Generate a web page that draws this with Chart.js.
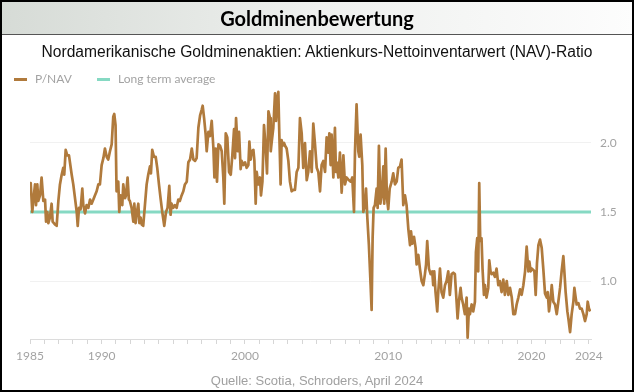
<!DOCTYPE html>
<html><head><meta charset="utf-8">
<script src="https://cdn.jsdelivr.net/npm/chart.js@4.4.1/dist/chart.umd.min.js"></script>
<style>
html,body{margin:0;padding:0;background:#fff;}
#wrap{position:relative;width:634px;height:392px;overflow:hidden;}
#head{position:absolute;left:0;top:0;width:634px;height:35px;background:linear-gradient(to right,#d6dbd6 0%,#eef0ee 50%,#fdfdfd 100%);border-bottom:1px solid #555;box-sizing:border-box;}
#title{position:absolute;left:0;top:6px;width:634px;text-align:center;font:bold 20px Lato,"Open Sans",sans-serif;color:#000;z-index:3;}
#sub{position:absolute;left:0;top:43px;width:634px;text-align:center;font:15.6px "Liberation Sans",Arial,sans-serif;color:#111;z-index:3;}
#src{position:absolute;left:0;top:373px;width:634px;text-align:center;font:13px "Liberation Sans",Arial,sans-serif;color:#a0a0a0;z-index:3;}
#legend{position:absolute;left:14px;top:71px;font:12px Lato,sans-serif;color:#a3a3a3;z-index:3;}
#legend span.item{position:absolute;white-space:nowrap;}
#legend i{position:absolute;top:7px;width:13px;height:3px;}
canvas{position:absolute;left:0;top:0;z-index:1;}
#frame{position:absolute;left:0;top:0;width:634px;height:392px;border:2px solid #000;box-sizing:border-box;z-index:4;pointer-events:none;}
</style></head>
<body>
<div id="wrap">
<div id="head"></div>
<div id="title">Goldminenbewertung</div>
<div id="sub">Nordamerikanische Goldminenaktien: Aktienkurs-Nettoinventarwert (NAV)-Ratio</div>
<div id="legend">
 <span class="item" style="left:0"><i style="left:0;background:#b07a3c"></i><span style="margin-left:21px">P/NAV</span></span>
 <span class="item" style="left:83px"><i style="left:0;background:#86d9c3"></i><span style="margin-left:21px">Long term average</span></span>
</div>
<canvas id="c" width="634" height="392"></canvas>
<div id="src">Quelle: Scotia, Schroders, April 2024</div>
<div id="frame"></div>
</div>
<script>
const seriesNames = ["P/NAV", "Long term average"];
const longTermAverage = 1.5;
const xLabelYears = [1985, 1990, 2000, 2010, 2020, 2024];
const yTickValues = [1.0, 1.5, 2.0];
const dates = [
1985.00,1985.05,1985.16,1985.23,1985.35,1985.42,1985.51,1985.58,1985.70,1985.81,1985.93,
1986.05,1986.12,1986.21,1986.28,1986.39,1986.51,1986.58,1986.74,1986.86,1986.98,
1987.09,1987.21,1987.32,1987.39,1987.49,1987.60,1987.72,1987.91,
1988.02,1988.14,1988.26,1988.33,1988.42,1988.53,1988.65,1988.72,1988.84,1988.95,
1989.07,1989.19,1989.30,1989.42,1989.53,1989.65,1989.77,1989.88,
1990.00,1990.12,1990.23,1990.35,1990.46,1990.58,1990.70,1990.81,1990.88,1990.97,
1991.04,1991.16,1991.23,1991.32,1991.44,1991.51,1991.63,1991.70,1991.81,1991.90,1991.97,
1992.09,1992.21,1992.28,1992.37,1992.44,1992.56,1992.63,1992.72,1992.79,1992.90,
1993.02,1993.14,1993.25,1993.37,1993.44,1993.53,1993.65,1993.77,1993.88,
1994.00,1994.11,1994.23,1994.37,1994.49,1994.60,1994.72,1994.81,1994.88,
1995.00,1995.11,1995.23,1995.35,1995.46,1995.58,1995.70,1995.81,1995.94,
1996.05,1996.17,1996.29,1996.40,1996.52,1996.63,1996.75,1996.87,1996.98,
1997.05,1997.15,1997.26,1997.33,1997.45,1997.56,1997.68,1997.80,1997.87,1997.96,
1998.05,1998.15,1998.26,1998.38,1998.49,1998.56,1998.66,1998.77,1998.89,
1999.01,1999.12,1999.24,1999.31,1999.38,1999.50,1999.59,1999.70,1999.77,1999.89,
2000.01,2000.12,2000.24,2000.31,2000.40,2000.47,2000.59,2000.66,2000.75,2000.82,2000.94,
2001.05,2001.12,2001.22,2001.33,2001.45,2001.54,2001.64,2001.75,2001.80,2001.87,2001.98,
2002.10,2002.17,2002.24,2002.33,2002.40,2002.49,2002.56,2002.63,2002.73,2002.80,2002.91,
2003.03,2003.14,2003.26,2003.38,2003.49,2003.61,2003.73,2003.84,2003.96,
2004.07,2004.19,2004.31,2004.42,2004.54,2004.66,2004.77,2004.89,
2005.01,2005.12,2005.24,2005.35,2005.47,2005.59,2005.70,2005.82,2005.89,2005.98,
2006.05,2006.17,2006.28,2006.35,2006.40,2006.52,2006.63,2006.75,2006.87,2006.98,
2007.10,2007.26,2007.38,2007.49,2007.61,2007.68,2007.79,2007.91,2007.98,
2008.07,2008.19,2008.26,2008.38,2008.45,2008.54,2008.65,2008.77,2008.84,2008.91,2008.98,
2009.07,2009.19,2009.26,2009.35,2009.45,2009.54,2009.66,2009.72,2009.82,2009.91,
2010.00,2010.10,2010.24,2010.35,2010.47,2010.59,2010.70,2010.82,2010.93,
2011.05,2011.17,2011.28,2011.40,2011.52,2011.59,2011.68,2011.80,2011.91,2011.98,
2012.10,2012.21,2012.33,2012.45,2012.56,2012.64,2012.72,2012.84,2012.96,
2013.07,2013.14,2013.21,2013.30,2013.42,2013.49,2013.61,2013.72,2013.84,2013.96,
2014.07,2014.19,2014.30,2014.42,2014.54,2014.65,2014.77,2014.84,2014.93,
2015.05,2015.12,2015.23,2015.35,2015.47,2015.54,2015.63,2015.70,2015.82,2015.93,
2016.05,2016.12,2016.21,2016.28,2016.35,2016.42,2016.51,2016.58,2016.68,2016.75,2016.86,2016.98,
2017.05,2017.14,2017.21,2017.33,2017.44,2017.56,2017.68,2017.79,2017.91,
2018.03,2018.14,2018.27,2018.38,2018.50,2018.62,2018.73,2018.85,2018.96,
2019.08,2019.20,2019.31,2019.43,2019.55,2019.66,2019.78,2019.85,2019.94,
2020.01,2020.13,2020.20,2020.29,2020.38,2020.48,2020.59,2020.71,2020.82,2020.94,
2021.06,2021.13,2021.22,2021.34,2021.41,2021.52,2021.64,2021.76,2021.87,2021.99,
2022.10,2022.22,2022.29,2022.38,2022.50,2022.57,2022.69,2022.80,2022.92,2022.99,
2023.08,2023.15,2023.27,2023.38,2023.50,2023.62,2023.73,2023.85,2023.92,
2024.01,2024.10
];
const pnav = [
1.64,1.71,1.50,1.58,1.70,1.55,1.70,1.58,1.62,1.75,1.58,
1.59,1.43,1.50,1.42,1.46,1.56,1.43,1.41,1.40,1.58,
1.70,1.77,1.82,1.77,1.95,1.91,1.91,1.77,
1.70,1.60,1.50,1.40,1.53,1.52,1.67,1.55,1.49,1.55,
1.53,1.59,1.56,1.59,1.62,1.65,1.70,1.70,
1.84,1.89,1.96,1.90,1.88,1.94,1.99,2.19,2.21,2.13,
1.65,1.72,1.50,1.62,1.55,1.70,1.60,1.62,1.75,1.59,1.58,
1.53,1.43,1.56,1.42,1.49,1.56,1.42,1.46,1.41,1.40,
1.55,1.70,1.77,1.83,1.78,1.95,1.90,1.90,1.82,
1.70,1.60,1.50,1.40,1.50,1.53,1.69,1.48,1.56,
1.53,1.55,1.53,1.59,1.58,1.62,1.65,1.70,1.72,
1.86,1.88,1.96,1.88,1.87,1.89,2.11,2.20,2.24,
2.27,2.18,2.06,1.94,2.08,2.05,2.16,1.96,1.75,1.96,
1.72,1.99,1.98,1.94,1.75,1.56,2.07,2.04,1.79,
1.77,1.91,2.10,1.89,2.18,1.94,2.08,1.81,1.87,1.84,
1.86,1.82,1.84,2.01,1.88,1.94,1.95,1.87,1.56,1.79,1.70,
1.75,1.62,1.72,2.13,1.96,1.78,2.23,2.18,1.94,2.01,2.11,
2.36,2.16,2.31,2.37,2.06,1.70,2.02,1.98,2.00,1.98,1.96,
1.87,1.72,1.65,1.66,1.66,1.79,1.82,2.18,2.07,
1.82,2.00,1.73,1.79,1.94,1.79,2.14,1.99,
1.82,1.79,1.65,1.84,1.87,1.79,2.04,1.93,2.07,1.84,
2.06,1.75,2.11,1.79,1.86,1.75,1.93,1.64,1.91,1.70,
1.75,1.73,1.72,1.75,1.50,1.94,2.28,1.94,1.90,
2.06,1.84,1.50,1.55,1.67,1.46,1.26,0.97,0.79,1.31,1.53,
1.55,1.67,1.53,1.98,1.56,1.62,1.83,1.56,1.96,1.60,
1.52,1.67,1.72,1.78,1.70,1.72,1.82,1.83,1.88,
1.55,1.62,1.55,1.38,1.26,1.36,1.27,1.32,1.24,1.12,
1.19,1.09,1.00,0.97,1.05,1.12,1.29,1.09,1.05,
1.07,0.97,1.07,0.92,0.78,0.92,1.09,0.92,0.88,0.97,
1.00,1.07,0.90,1.05,1.06,1.05,0.85,0.73,0.85,
0.95,0.88,0.83,0.76,0.88,0.59,0.80,0.76,0.83,0.78,
0.85,1.21,1.31,1.07,1.71,1.29,1.31,1.09,0.90,0.97,0.88,0.95,
1.15,1.07,1.05,1.06,1.03,1.09,0.97,1.00,0.92,
1.01,0.90,1.00,0.90,0.95,0.88,0.76,0.76,0.83,
0.88,0.94,0.90,0.97,1.07,1.25,1.07,1.14,1.07,
1.09,1.08,1.07,0.90,1.13,1.26,1.30,1.24,1.09,0.91,
0.88,0.92,0.78,0.88,0.97,0.85,0.83,0.76,0.85,0.95,
1.07,1.18,1.07,0.92,0.78,0.73,0.63,0.76,0.85,0.95,
0.88,0.83,0.84,0.80,0.80,0.76,0.71,0.76,0.85,
0.80,0.78
];

const xMin = 1985, xMax = 2024.15;
const seriesData = dates.map((d, i) => ({x: d, y: pnav[i]}));
const avgData = [{x: xMin, y: longTermAverage}, {x: xMax, y: longTermAverage}];

new Chart(document.getElementById('c'), {
  type: 'line',
  data: {
    datasets: [
      {label: seriesNames[0], data: seriesData, borderColor: '#b07a3c', backgroundColor: '#b07a3c', borderWidth: 2.7, pointRadius: 0, tension: 0, order: 0, borderJoinStyle: 'round'},
      {label: seriesNames[1], data: avgData, borderColor: '#86d9c3', backgroundColor: '#86d9c3', borderWidth: 3, pointRadius: 0, order: 1}
    ]
  },
  options: {
    responsive: false,
    animation: false,
    events: [],
    layout: {padding: {left: 30, top: 85, right: 0, bottom: 22}},
    plugins: {legend: {display: false}, tooltip: {enabled: false}, title: {display: false}},
    scales: {
      x: {
        type: 'linear', min: xMin, max: xMax,
        afterBuildTicks: s => { const t = []; for (let y = 1985; y <= 2024; y++) t.push({value: y}); s.ticks = t; },
        afterFit: s => { s.height = 31; },
        ticks: {autoSkip: false, maxRotation: 0, padding: 5, color: '#a3a3a3', font: {family: 'Lato', size: 12},
          callback: v => xLabelYears.includes(v) ? String(v) : ''},
        grid: {drawOnChartArea: false, drawTicks: true, tickLength: 5, color: '#d6d6d6'},
        border: {display: true, color: '#dcdcdc', width: 1}
      },
      y: {
        position: 'right', min: 0.58, max: 2.42,
        afterBuildTicks: s => { s.ticks = yTickValues.map(v => ({value: v})); },
        afterFit: s => { s.width = 43; },
        ticks: {padding: 9, color: '#a3a3a3', font: {family: 'Lato', size: 12}, callback: v => v.toFixed(1)},
        grid: {drawTicks: false, color: '#f1f1f1'},
        border: {display: false}
      }
    }
  }
});
</script>
</body></html>
